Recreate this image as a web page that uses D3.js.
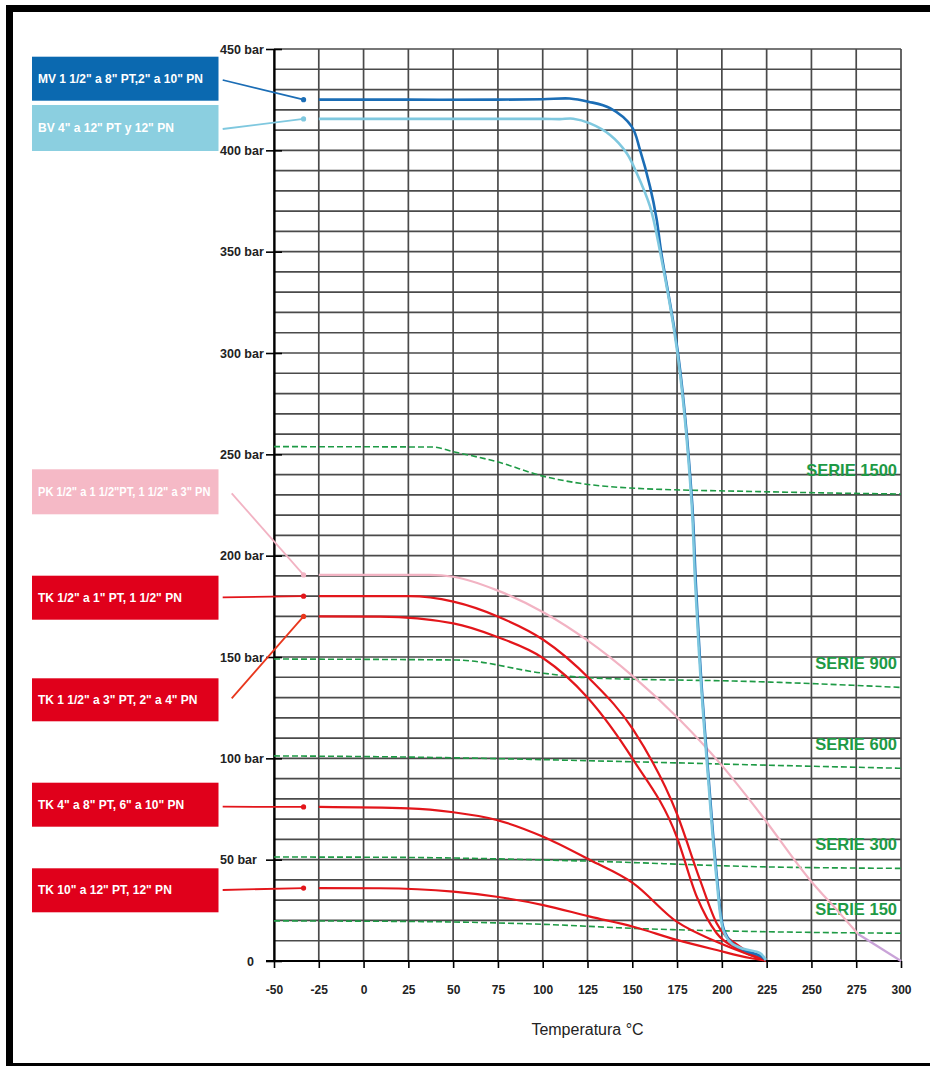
<!DOCTYPE html>
<html>
<head>
<meta charset="utf-8">
<script src="https://cdn.jsdelivr.net/npm/d3@7"></script>
<style>
  body { margin: 0; background: #fff; }
  svg { display: block; font-family: "Liberation Sans", Arial, sans-serif; }
</style>
</head>
<body>
<div id="chart"></div>
<script>
// curves as [temperature °C, pressure bar]
const mvCurve = [[-25, 425], [25, 425], [75, 425], [100, 425.2], [115, 425.6], [125.5, 424],
  [137.6, 420.8], [149.7, 411.7], [154.3, 400.2], [159.9, 382.1], [163.6, 366], [166, 350.5],
  [175.8, 298], [183.3, 227.5], [185.4, 188], [188.5, 138.6], [192.7, 89.3], [197.4, 40], [201.2, 15.3],
  [206, 8.5], [213, 5.2], [221.3, 2.6], [224.5, 0.5]];
const bvCurve = [[-25, 415.5], [50, 415.5], [100, 415.5], [109.6, 415.4], [117, 415.6], [126.4, 413.3],
  [137.6, 407.6], [146.9, 398.6], [152.5, 388.7], [159.9, 372.3], [165.4, 350.5], [175.5, 298],
  [183, 227.5], [185, 188], [188.2, 138.6], [192.4, 89.3], [197.1, 40], [200.8, 15.3], [205, 9],
  [212, 6], [221.3, 3.9], [224.5, 0.5]];
const pkCurve = [[-25, 190.5], [37, 190.5], [50.1, 189.6], [74.3, 183], [101.3, 171.6], [124.6, 158.4],
  [150.6, 140.3], [176.6, 118.9], [199, 97.5], [221.3, 72.9], [249.2, 40], [265.9, 23.5], [276, 13.3]];
const pkTail = [[276, 13.3], [300, 0]];
const tk1Curve = [[-25, 180], [25.4, 180], [50.1, 177.3], [76.2, 169.5], [100.3, 158.5], [126.4, 139],
  [150.6, 114], [174.8, 72.9], [187.8, 40], [197.1, 18.6], [210.1, 7.1], [224.5, 0.3]];
const tk2Curve = [[-25, 170], [9.2, 169.9], [50.1, 166.6], [74.3, 160], [100.3, 149.4], [124.6, 130.4],
  [150.6, 99.2], [174.8, 61.3], [186, 31.7], [197.1, 13.7], [210, 5.4], [224.5, 0.3]];
const tk3Curve = [[-25, 76], [25, 75.3], [50.1, 73.4], [74.3, 69.6], [100.3, 61.3], [126.4, 49.8],
  [150.6, 38.3], [174.8, 19.4], [197.1, 9.5], [215.7, 3], [224.5, 0.3]];
const tk4Curve = [[-25, 36], [9.2, 35.9], [50.1, 34.2], [74.3, 31.7], [100.3, 27.6], [126.4, 21.9],
  [150.6, 16.9], [174.8, 10.4], [197.1, 5.4], [215.7, 1.5], [224.5, 0.2]];

// ASME class lines
const serie1500 = [[-50, 253.8], [38.8, 253.6], [50.1, 251.3], [74.3, 246.4], [101.3, 239], [120.8, 235.7],
  [148.7, 233.4], [221.3, 231.6], [300, 230.4]];
const serie900 = [[-50, 149], [52, 148.5], [100.3, 142], [124.6, 139.8], [221.3, 137.8], [300, 135]];
const serie600 = [[-50, 101.2], [9.2, 100.8], [150.6, 98.3], [221.3, 96.7], [300, 95.1]];
const serie300 = [[-50, 51.3], [9.2, 51.2], [124.6, 49.3], [221.3, 46.5], [300, 45.7]];
const serie150 = [[-50, 19.8], [38, 19.4], [100.3, 18.1], [150.6, 16.1], [221.3, 14.5], [300, 13.7]];
const serieNames = ["SERIE 1500", "SERIE 900", "SERIE 600", "SERIE 300", "SERIE 150"];

const legendLabels = [
  "MV 1 1/2\" a 8\" PT,2\" a 10\" PN",
  "BV 4\" a 12\" PT y 12\" PN",
  "PK 1/2\" a 1 1/2\"PT, 1 1/2\" a 3\" PN",
  "TK 1/2\" a 1\" PT, 1 1/2\" PN",
  "TK 1 1/2\" a 3\" PT, 2\" a 4\" PN",
  "TK 4\" a 8\" PT, 6\" a 10\" PN",
  "TK 10\" a 12\" PT, 12\" PN"
];

const xTickValues = [-50, -25, 0, 25, 50, 75, 100, 125, 150, 175, 200, 225, 250, 275, 300];
const yTickValues = [0, 50, 100, 150, 200, 250, 300, 350, 400, 450];
const yTickLabels = ["0", "50 bar", "100 bar", "150 bar", "200 bar", "250 bar", "300 bar", "350 bar", "400 bar", "450 bar"];
const xTitle = "Temperatura °C";

// layout
const width = 930;
const height = 1066;
const legendTop = [56.7, 105, 469.3, 575.7, 678.3, 782.7, 868.3];
const legendH = [44, 46, 45, 44, 43, 44, 44];
const boxX = 32, boxW = 186.5;
const leaderStartX = [222.7, 222.7, 231.7, 222.7, 231.7, 222.7, 222.7];
const leaderStartY = [80, 129, 493.3, 597.3, 698.3, 806.7, 890];

const svg = d3.select("#chart").append("svg")
  .attr("width", width)
  .attr("height", height);

svg.append("rect")
  .attr("x", 9.5).attr("y", 8.5)
  .attr("width", 940).attr("height", 1058)
  .attr("fill", "none")
  .attr("stroke", "#000")
  .attr("stroke-width", 7);

const x = d3.scaleLinear().domain([-50, 300]).range([274, 901]);
const y = d3.scaleLinear().domain([0, 450]).range([961, 49]);

// grid
const grid = svg.append("g").attr("stroke", "#4a4a4a").attr("stroke-width", 1.7);
grid.selectAll(".h").data(d3.range(0, 451, 10)).join("line")
  .attr("class", "h")
  .attr("x1", x(-50)).attr("x2", x(300))
  .attr("y1", d => y(d)).attr("y2", d => y(d));
grid.selectAll(".v").data(xTickValues).join("line")
  .attr("class", "v")
  .attr("x1", d => x(d)).attr("x2", d => x(d))
  .attr("y1", y(0)).attr("y2", y(450));

// y axis
const yAxis = svg.append("g")
  .attr("transform", `translate(${x(-50)},0)`)
  .call(d3.axisLeft(y).tickValues(yTickValues)
    .tickFormat((d, i) => yTickLabels[i]).tickSize(8).tickSizeOuter(0));
yAxis.attr("font-family", null).attr("font-size", null);
yAxis.select(".domain").attr("stroke", "#000").attr("stroke-width", 2.2);
yAxis.selectAll(".tick line").attr("x1", 8).attr("stroke", "#000").attr("stroke-width", 1.6);
yAxis.selectAll(".tick text")
  .attr("x", d => d === 0 ? -20 : -54)
  .attr("text-anchor", d => d === 0 ? "end" : "start")
  .attr("fill", "#222")
  .attr("font-size", 12.5)
  .attr("font-weight", "bold");

// x axis
const xAxis = svg.append("g")
  .attr("transform", `translate(0,${y(0)})`)
  .call(d3.axisBottom(x).tickValues(xTickValues)
    .tickFormat(d => String(d)).tickSize(7).tickSizeOuter(0));
xAxis.attr("font-family", null).attr("font-size", null);
xAxis.select(".domain").remove();
xAxis.selectAll(".tick line").attr("stroke", "#000").attr("stroke-width", 1.6);
xAxis.selectAll(".tick text")
  .attr("y", 24)
  .attr("fill", "#222")
  .attr("font-size", 12)
  .attr("font-weight", "bold");
svg.append("line")
  .attr("x1", x(-50) - 8).attr("x2", x(300))
  .attr("y1", y(0)).attr("y2", y(0))
  .attr("stroke", "#000").attr("stroke-width", 2.2);

svg.append("text")
  .attr("x", (x(-50) + x(300)) / 2)
  .attr("y", 1035)
  .attr("text-anchor", "middle")
  .attr("font-size", 16)
  .attr("fill", "#222")
  .text(xTitle);

const line = d3.line()
  .x(d => x(d[0]))
  .y(d => y(d[1]))
  .curve(d3.curveMonotoneX);

const blueLine = d3.line()
  .x(d => x(d[0]))
  .y(d => y(d[1]))
  .curve(d3.curveCatmullRom.alpha(0.5));

// class lines
const series = [serie1500, serie900, serie600, serie300, serie150];
svg.append("g").selectAll("path").data(series).join("path")
  .attr("d", line)
  .attr("fill", "none")
  .attr("stroke", "#1e9a45")
  .attr("stroke-width", 1.6)
  .attr("stroke-dasharray", "6,3");

svg.append("g").selectAll("text").data(series).join("text")
  .attr("x", x(300) - 4)
  .attr("y", d => y(d[d.length - 1][1]) - 18)
  .attr("text-anchor", "end")
  .attr("font-size", 16.5)
  .attr("font-weight", "bold")
  .attr("fill", "#1e9a45")
  .text((d, i) => serieNames[i]);

// valve curves
const curves = [
  { data: pkCurve, color: "#f2b3c3", w: 2.2, gen: line },
  { data: pkTail, color: "#c9a3d8", w: 2.2, gen: line },
  { data: tk4Curve, color: "#e3161b", w: 2.2, gen: line },
  { data: tk3Curve, color: "#e3161b", w: 2.2, gen: line },
  { data: tk2Curve, color: "#e3161b", w: 2.2, gen: line },
  { data: tk1Curve, color: "#e3161b", w: 2.2, gen: line },
  { data: mvCurve, color: "#1b6db5", w: 2.6, gen: blueLine },
  { data: bvCurve, color: "#7fc8df", w: 2.6, gen: blueLine }
];
svg.append("g").selectAll("path").data(curves).join("path")
  .attr("d", d => d.gen(d.data))
  .attr("fill", "none")
  .attr("stroke", d => d.color)
  .attr("stroke-width", d => d.w);

// legend boxes with leaders
const legendCurves = [mvCurve, bvCurve, pkCurve, tk1Curve, tk2Curve, tk3Curve, tk4Curve];
const boxColors = ["#0b69b0", "#8bcfe0", "#f5b9c6", "#e0001b", "#e0001b", "#e0001b", "#e0001b"];
const leaderColors = ["#1b6db5", "#7fc8df", "#f2b3c3", "#e3161b", "#e8361c", "#e3161b", "#e3161b"];
const leaderTemp = -33.5;

const legend = svg.append("g").selectAll("g").data(legendLabels).join("g");
legend.append("rect")
  .attr("x", boxX)
  .attr("y", (d, i) => legendTop[i])
  .attr("width", boxW)
  .attr("height", (d, i) => legendH[i])
  .attr("fill", (d, i) => boxColors[i]);
legend.append("text")
  .attr("x", boxX + 6)
  .attr("y", (d, i) => legendTop[i] + legendH[i] / 2 + 4)
  .attr("font-size", 12)
  .attr("font-weight", "bold")
  .attr("fill", "#fff")
  .text(d => d)
  .each(function() {
    // squeeze labels that would run past the box
    const maxW = boxW - 14;
    if (this.getComputedTextLength() > maxW) {
      d3.select(this).attr("textLength", maxW).attr("lengthAdjust", "spacingAndGlyphs");
    }
  });
legend.append("line")
  .attr("x1", (d, i) => leaderStartX[i])
  .attr("y1", (d, i) => leaderStartY[i])
  .attr("x2", x(leaderTemp))
  .attr("y2", (d, i) => y(legendCurves[i][0][1]))
  .attr("stroke", (d, i) => leaderColors[i])
  .attr("stroke-width", 1.8);
legend.append("circle")
  .attr("cx", x(leaderTemp))
  .attr("cy", (d, i) => y(legendCurves[i][0][1]))
  .attr("r", 2.6)
  .attr("fill", (d, i) => leaderColors[i]);
</script>
</body>
</html>
